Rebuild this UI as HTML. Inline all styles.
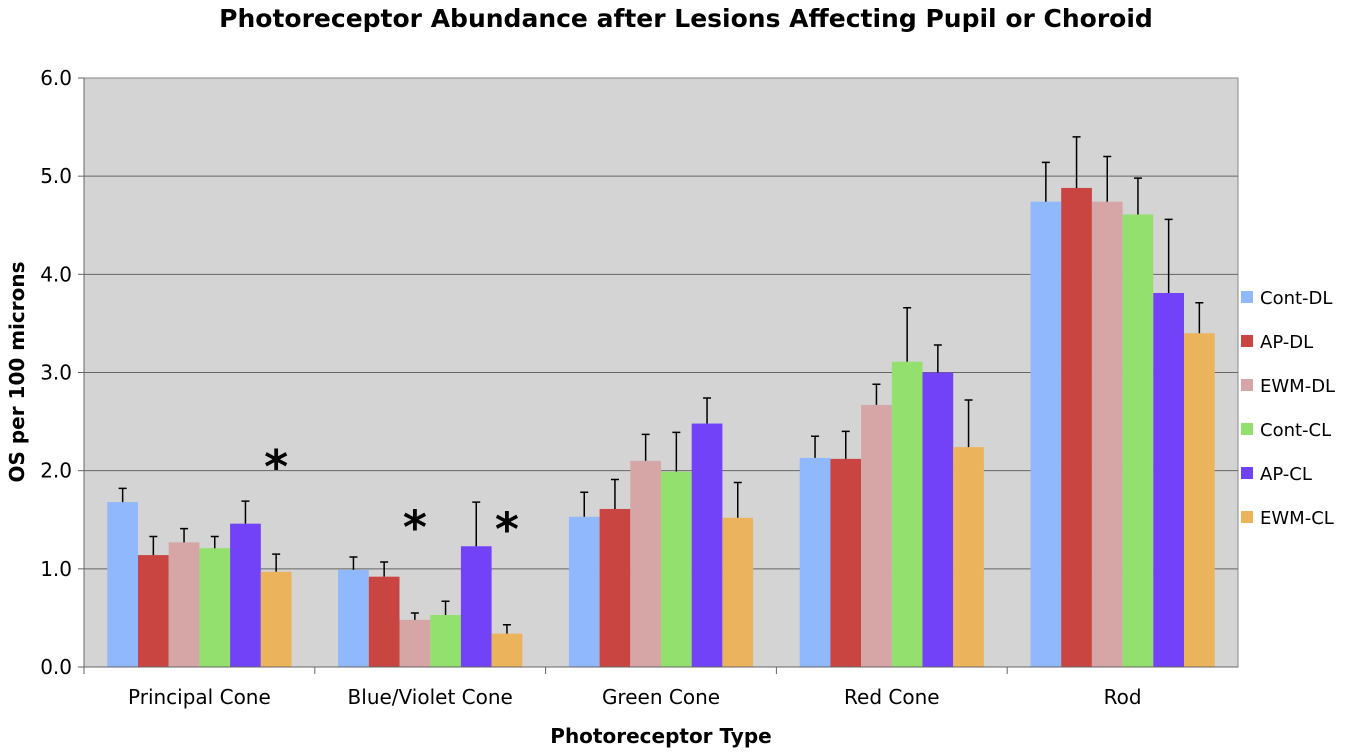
<!DOCTYPE html>
<html><head><meta charset="utf-8"><style>
body{margin:0;background:#fff;}
svg text{font-family:"DejaVu Sans","Liberation Sans",sans-serif;}
</style></head><body>
<svg id="chart" width="1372" height="750" xmlns="http://www.w3.org/2000/svg">
<text x="686" y="27" text-anchor="middle" font-size="25" font-weight="bold">Photoreceptor Abundance after Lesions Affecting Pupil or Choroid</text>
<rect x="84" y="78" width="1154" height="589" fill="#d4d4d4" stroke="#888"/>
<g id="grid"></g><g id="bars"></g><g id="axes"></g><g id="legend"></g>
<text x="24" y="372" transform="rotate(-90 24 372)" text-anchor="middle" font-size="20" font-weight="bold">OS per 100 microns</text>
<text x="661" y="743" text-anchor="middle" font-size="20" font-weight="bold">Photoreceptor Type</text>
</svg>
<script>
const categories=["Principal Cone","Blue/Violet Cone","Green Cone","Red Cone","Rod"];
const seriesNames=["Cont-DL","AP-DL","EWM-DL","Cont-CL","AP-CL","EWM-CL"];
const colors=["#8fb8fd","#c84541","#d5a6a5","#93e06e","#7142f7","#ecb35d"];
const contDL=[1.68,0.99,1.53,2.13,4.74];
const apDL=[1.14,0.92,1.61,2.12,4.88];
const ewmDL=[1.27,0.48,2.10,2.67,4.74];
const contCL=[1.21,0.53,1.99,3.11,4.61];
const apCL=[1.46,1.23,2.48,3.00,3.81];
const ewmCL=[0.97,0.34,1.52,2.24,3.40];
const errContDL=[0.14,0.13,0.25,0.22,0.40];
const errApDL=[0.19,0.15,0.30,0.28,0.52];
const errEwmDL=[0.14,0.07,0.27,0.21,0.46];
const errContCL=[0.12,0.14,0.40,0.55,0.37];
const errApCL=[0.23,0.45,0.26,0.28,0.75];
const errEwmCL=[0.18,0.09,0.36,0.48,0.31];
const yTicks=[0,1,2,3,4,5,6];
const stars=[[0,5,2.1],[1,2,1.48],[1,5,1.46]];
const series=[contDL,apDL,ewmDL,contCL,apCL,ewmCL];
const errs=[errContDL,errApDL,errEwmDL,errContCL,errApCL,errEwmCL];
const X0=84,X1=1238,Y0=667,Y1=78,YMAX=6;
const y=v=>Y0-(v/YMAX)*(Y0-Y1);
const gw=(X1-X0)/categories.length,bw=30.7,pad=(gw-bw*6)/2;
const bx=(c,s)=>X0+c*gw+pad+s*bw;
const NS="http://www.w3.org/2000/svg";
function mk(t,a,p){const e=document.createElementNS(NS,t);for(const k in a)e.setAttribute(k,a[k]);p.appendChild(e);return e;}
const G=document.getElementById('grid'),B=document.getElementById('bars'),A=document.getElementById('axes'),L=document.getElementById('legend');
yTicks.forEach(t=>{
  if(t>0&&t<YMAX){const l=mk('line',{x1:X0,x2:X1,y1:y(t),y2:y(t),stroke:'#666','stroke-width':1},G);
  
  }
  const tk=mk('line',{x1:X0-6,x2:X0,y1:y(t),y2:y(t),stroke:'#666'},A);
  
  
  const tx=mk('text',{x:X0-12,y:y(t)+7,'text-anchor':'end','font-size':20},A);tx.textContent=t.toFixed(1);
  
  
});
categories.forEach((c,ci)=>{
  series.forEach((s,si)=>{
    const r=mk('rect',{x:bx(ci,si),y:y(s[ci]),width:bw,height:Y0-y(s[ci]),fill:colors[si]},B);
    
    
    const cx=bx(ci,si)+bw/2,top=y(s[ci]+errs[si][ci]);
    const e=mk('path',{d:`M${cx},${y(s[ci])}V${top}M${cx-4},${top}H${cx+4}`,stroke:'#000','stroke-width':1.5,fill:'none'},B);
    
    
  });
  const tx=mk('text',{x:X0+gw*(ci+0.5),y:704,'text-anchor':'middle','font-size':20},A);tx.textContent=c;
  
  
  const tk=mk('line',{x1:X0+gw*ci,x2:X0+gw*ci,y1:Y0,y2:Y0+7,stroke:'#666'},A);
  
  
});
mk('line',{x1:X0,x2:X1,y1:Y0,y2:Y0,stroke:'#666'},A);
mk('line',{x1:X0,x2:X0,y1:Y1,y2:Y0,stroke:'#666'},A);
stars.forEach(([ci,si,v])=>{
  const t=mk('text',{x:bx(ci,si)+bw/2,y:y(v)+22,'text-anchor':'middle','font-size':46,'font-weight':'bold'},B);t.textContent='*';
  
  
});
seriesNames.forEach((n,i)=>{
  const ly=297+i*44;
  const r=mk('rect',{x:1241,y:ly-6,width:12,height:12,fill:colors[i]},L);
  
  
  const t=mk('text',{x:1260,y:ly+7,'font-size':18},L);t.textContent=n;
  
  
});
</script>
</body></html>
